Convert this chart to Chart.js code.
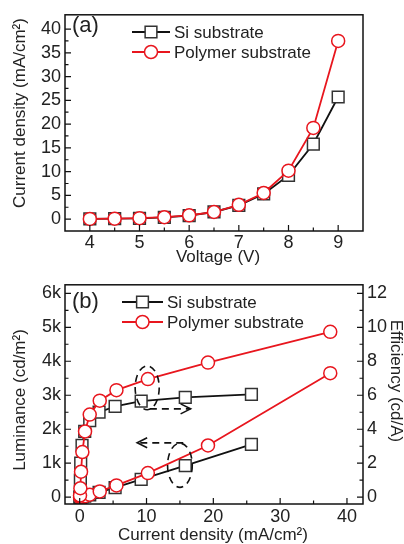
<!DOCTYPE html>
<html>
<head>
<meta charset="utf-8">
<script src="https://cdn.jsdelivr.net/npm/chart.js@4.4.0/dist/chart.umd.min.js"></script>
<style>
  html, body { margin: 0; padding: 0; background: #fff; }
  #wrap { position: relative; width: 404px; height: 544px; overflow: hidden; }
  canvas { position: absolute; left: 0; }
</style>
</head>
<body>
<div id="wrap">
  <canvas id="chartA" width="404" height="270" style="top:0"></canvas>
  <canvas id="chartB" width="404" height="274" style="top:270px"></canvas>
</div>
<script>
// panel (a): J-V
var voltage = [4, 4.5, 5, 5.5, 6, 6.5, 7, 7.5, 8, 8.5, 9];
var jSi     = [0.05, 0.1, 0.15, 0.35, 0.75, 1.5, 2.9, 5.3, 9.2, 15.8, 25.7];
var jPoly   = [0.05, 0.1, 0.2, 0.4, 0.8, 1.5, 3.0, 5.5, 10.2, 19.2, 37.5];

// panel (b): luminance (cd/m2) and efficiency (cd/A) vs current density
var lumSi   = [0, 1, 3, 11, 29, 68, 145, 285, 523, 927, 1556];
var lumPoly = [0, 1, 3, 11, 31, 73, 170, 347, 710, 1522, 3650];
var effSi   = [0, 1.0, 2.0, 3.05, 3.87, 4.5, 5.0, 5.35, 5.65, 5.87, 6.05];
var effPoly = [0.1, 0.53, 1.5, 2.66, 3.87, 4.86, 5.68, 6.3, 6.95, 7.92, 9.73];

var xTicksA = [4, 5, 6, 7, 8, 9];
var yTicksA = [0, 5, 10, 15, 20, 25, 30, 35, 40];
var xTicksB = [0, 10, 20, 30, 40];
var yTicksB = [0, 1000, 2000, 3000, 4000, 5000, 6000];
var y2TicksB = [0, 2, 4, 6, 8, 10, 12];

var seriesNames = ['Si substrate', 'Polymer substrate'];

var RED = 'rgb(232,22,30)';
var BLACK = '#111';
var FONT = '"Liberation Sans", Arial, sans-serif';
var TXT = '#222';

function pts(xs, ys) {
  return xs.map(function (x, i) { return { x: x, y: ys[i] }; });
}

function siSet(data, axis) {
  return {
    label: seriesNames[0], data: data, yAxisID: axis || 'y',
    borderColor: BLACK, borderWidth: 1.8, backgroundColor: '#fff',
    pointStyle: 'rect', pointRadius: 8.3, pointBorderWidth: 1.5,
    pointBackgroundColor: '#fff', pointBorderColor: '#333', order: 2
  };
}
function polySet(data, axis) {
  return {
    label: seriesNames[1], data: data, yAxisID: axis || 'y',
    borderColor: RED, borderWidth: 1.8, backgroundColor: '#fff',
    pointStyle: 'circle', pointRadius: 6.5, pointBorderWidth: 1.5,
    pointBackgroundColor: '#fff', pointBorderColor: RED, order: 1
  };
}

function fixTicks(arr) {
  return function (s) { s.ticks = arr.map(function (v) { return { value: v }; }); };
}

function tickFont() { return { family: FONT, size: 18 }; }

// inward major + minor ticks for an axis
function drawInTicks(ctx, chart, id, vals, side) {
  var s = chart.scales[id], a = chart.chartArea;
  ctx.beginPath();
  var all = [];
  for (var i = 0; i < vals.length; i++) {
    all.push([vals[i], 6]);
    if (i < vals.length - 1) all.push([(vals[i] + vals[i + 1]) / 2, 3.5]);
  }
  all.forEach(function (t) {
    var p = s.getPixelForValue(t[0]);
    if (side === 'bottom') { ctx.moveTo(p, a.bottom); ctx.lineTo(p, a.bottom - t[1]); }
    if (side === 'left') { ctx.moveTo(a.left, p); ctx.lineTo(a.left + t[1], p); }
    if (side === 'right') { ctx.moveTo(a.right, p); ctx.lineTo(a.right - t[1], p); }
  });
  ctx.stroke();
}

function drawLegend(ctx, x0, x1, tx, ys, ds) {
  ds.forEach(function (d, i) {
    var y = ys[i];
    ctx.strokeStyle = d.borderColor; ctx.lineWidth = 1.8;
    ctx.beginPath(); ctx.moveTo(x0, y); ctx.lineTo(x1, y); ctx.stroke();
    var cx = (x0 + x1) / 2;
    ctx.fillStyle = '#fff'; ctx.strokeStyle = d.pointBorderColor; ctx.lineWidth = 1.5;
    ctx.beginPath();
    if (d.pointStyle === 'rect') {
      var h = d.pointRadius * Math.SQRT1_2;
      ctx.rect(cx - h, y - h, 2 * h, 2 * h);
    } else {
      ctx.arc(cx, y, d.pointRadius, 0, Math.PI * 2);
    }
    ctx.fill(); ctx.stroke();
    ctx.fillStyle = TXT; ctx.font = '17px ' + FONT;
    ctx.textAlign = 'left'; ctx.textBaseline = 'middle';
    ctx.fillText(d.label, tx, y + 1);
  });
}

function vText(ctx, txt, x, y, rot) {
  ctx.save();
  ctx.translate(x, y); ctx.rotate(rot);
  ctx.textAlign = 'center'; ctx.textBaseline = 'middle';
  ctx.fillText(txt, 0, 0);
  ctx.restore();
}

var decorA = {
  id: 'decorA',
  afterDraw: function (chart) {
    var ctx = chart.ctx, a = chart.chartArea;
    ctx.save();
    ctx.strokeStyle = '#111'; ctx.lineWidth = 1.5;
    ctx.strokeRect(a.left, a.top, a.right - a.left, a.bottom - a.top);
    ctx.lineWidth = 1.2;
    drawInTicks(ctx, chart, 'x', xTicksA, 'bottom');
    drawInTicks(ctx, chart, 'y', yTicksA, 'left');
    ctx.fillStyle = TXT; ctx.font = '17px ' + FONT;
    ctx.textAlign = 'center'; ctx.textBaseline = 'middle';
    ctx.fillText('Voltage (V)', (a.left + a.right) / 2 + 4, 257);
    vText(ctx, 'Current density (mA/cm²)', 20, 113, -Math.PI / 2);
    ctx.font = '22px ' + FONT; ctx.textAlign = 'left';
    ctx.fillText('(a)', 72, 26);
    var ds = chart.data.datasets;
    drawLegend(ctx, 132, 170, 174, [32, 52], [ds[0], ds[1]]);
    ctx.restore();
  }
};

var decorB = {
  id: 'decorB',
  afterDraw: function (chart) {
    var ctx = chart.ctx, a = chart.chartArea;
    var sx = chart.scales.x, sy = chart.scales.y, sy2 = chart.scales.y2;
    ctx.save();
    ctx.strokeStyle = '#111'; ctx.lineWidth = 1.5;
    ctx.strokeRect(a.left, a.top, a.right - a.left, a.bottom - a.top);
    ctx.lineWidth = 1.2;
    drawInTicks(ctx, chart, 'x', xTicksB, 'bottom');
    drawInTicks(ctx, chart, 'y', yTicksB, 'left');
    drawInTicks(ctx, chart, 'y2', y2TicksB, 'right');

    // dashed ellipses and arrows (data coordinates)
    ctx.setLineDash([7, 5]); ctx.lineWidth = 1.6; ctx.strokeStyle = '#111';
    function ell(scaleY, cx, cy, rx, ry) {
      var px = sx.getPixelForValue(cx), py = scaleY.getPixelForValue(cy);
      var w = Math.abs(sx.getPixelForValue(cx + rx) - px);
      var h = Math.abs(scaleY.getPixelForValue(cy + ry) - py);
      ctx.beginPath(); ctx.ellipse(px, py, w, h, 0, 0, Math.PI * 2); ctx.stroke();
    }
    ell(sy2, 10.1, 6.44, 1.8, 1.29);
    ell(sy, 15, 940, 1.85, 650);
    function arrow(scaleY, xa, xb, yv) {
      var p0 = sx.getPixelForValue(xa), p1 = sx.getPixelForValue(xb), py = scaleY.getPixelForValue(yv);
      ctx.setLineDash([7, 5]);
      ctx.beginPath(); ctx.moveTo(p0, py); ctx.lineTo(p1, py); ctx.stroke();
      var dir = p1 > p0 ? 1 : -1;
      ctx.setLineDash([]);
      ctx.beginPath();
      ctx.moveTo(p1 - dir * 10, py - 5); ctx.lineTo(p1, py); ctx.lineTo(p1 - dir * 10, py + 5);
      ctx.stroke();
    }
    arrow(sy2, 10.5, 16.6, 5.2);
    arrow(sy, 15.5, 8.6, 1600);
    ctx.setLineDash([]);

    ctx.fillStyle = TXT; ctx.font = '17px ' + FONT;
    ctx.textAlign = 'center'; ctx.textBaseline = 'middle';
    ctx.fillText('Current density (mA/cm²)', 213, 265);
    vText(ctx, 'Luminance (cd/m²)', 20, 130, -Math.PI / 2);
    vText(ctx, 'Efficiency (cd/A)', 396, 111, Math.PI / 2);
    ctx.font = '22px ' + FONT; ctx.textAlign = 'left';
    ctx.fillText('(b)', 72, 32);
    var ds = chart.data.datasets;
    drawLegend(ctx, 122, 163, 167, [32, 52], [ds[0], ds[1]]);
    ctx.restore();
  }
};

Chart.defaults.font.family = FONT;
Chart.defaults.color = TXT;

new Chart(document.getElementById('chartA').getContext('2d'), {
  type: 'line',
  data: {
    datasets: [
      siSet(pts(voltage, jSi)),
      polySet(pts(voltage, jPoly))
    ]
  },
  options: {
    responsive: false, animation: false, devicePixelRatio: 1,
    layout: { padding: { top: 7, right: 41, left: 0, bottom: 0 } },
    plugins: { legend: { display: false }, tooltip: { enabled: false } },
    scales: {
      x: {
        type: 'linear', min: 3.5, max: 9.5,
        afterBuildTicks: fixTicks(xTicksA),
        afterFit: function (s) { s.height = 39; },
        grid: { display: false, drawTicks: false }, border: { display: false },
        ticks: { font: tickFont(), color: TXT, padding: 1 }
      },
      y: {
        type: 'linear', min: -2.5, max: 43,
        afterBuildTicks: fixTicks(yTicksA),
        afterFit: function (s) { s.width = 65; },
        grid: { display: false, drawTicks: false }, border: { display: false },
        ticks: { font: tickFont(), color: TXT, padding: 4 }
      }
    }
  },
  plugins: [decorA]
});

new Chart(document.getElementById('chartB').getContext('2d'), {
  type: 'line',
  data: {
    datasets: [
      siSet(pts(jSi, effSi), 'y2'),
      polySet(pts(jPoly, effPoly), 'y2'),
      siSet(pts(jSi, lumSi), 'y'),
      polySet(pts(jPoly, lumPoly), 'y')
    ]
  },
  options: {
    responsive: false, animation: false, devicePixelRatio: 1,
    layout: { padding: { top: 13, right: 0, left: 0, bottom: 0 } },
    plugins: { legend: { display: false }, tooltip: { enabled: false } },
    scales: {
      x: {
        type: 'linear', min: -2.2, max: 42.4,
        afterBuildTicks: fixTicks(xTicksB),
        afterFit: function (s) { s.height = 40; },
        grid: { display: false, drawTicks: false }, border: { display: false },
        ticks: { font: tickFont(), color: TXT, padding: 2 }
      },
      y: {
        type: 'linear', position: 'left', min: -200, max: 6250,
        afterBuildTicks: fixTicks(yTicksB),
        afterFit: function (s) { s.width = 65; },
        grid: { display: false, drawTicks: false }, border: { display: false },
        ticks: {
          font: tickFont(), color: TXT, padding: 4,
          callback: function (v) { return v === 0 ? '0' : (v / 1000) + 'k'; }
        }
      },
      y2: {
        type: 'linear', position: 'right', min: -0.4, max: 12.5,
        afterBuildTicks: fixTicks(y2TicksB),
        afterFit: function (s) { s.width = 41; },
        grid: { display: false, drawTicks: false }, border: { display: false },
        ticks: { font: tickFont(), color: TXT, padding: 4 }
      }
    }
  },
  plugins: [decorB]
});
</script>
</body>
</html>
